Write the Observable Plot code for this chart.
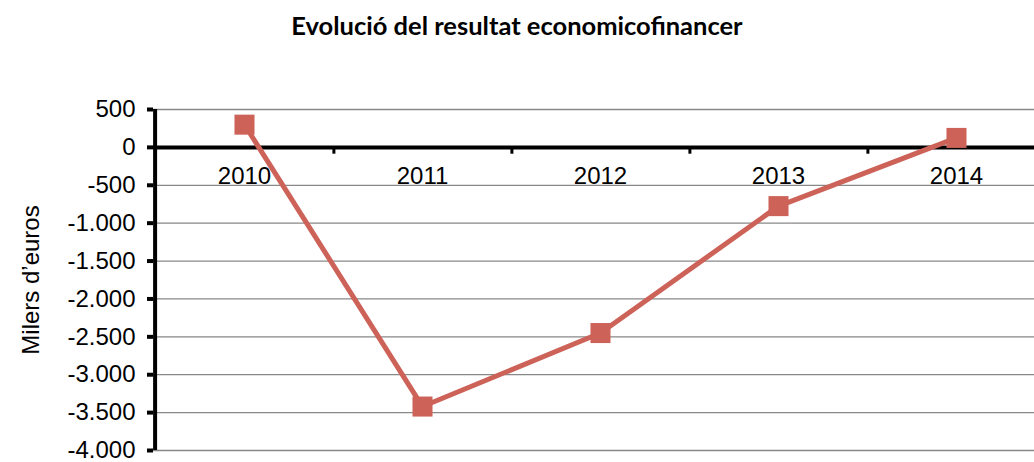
<!DOCTYPE html>
<html>
<head>
<meta charset="utf-8">
<script src="https://cdn.jsdelivr.net/npm/d3@7"></script>
<script src="https://cdn.jsdelivr.net/npm/@observablehq/plot@0.6"></script>
<style>
  html, body { margin: 0; padding: 0; background: #fff; overflow: hidden; width: 1034px; height: 462px; }
  #title { height: 70px; box-sizing: border-box; padding-top: 10px; text-align: center; font-family: "Lato", "Open Sans", sans-serif; font-weight: bold; font-size: 25.5px; color: #000; width: 1034px; line-height: 30px; }
  #chart { width: 1047px; }
  #chart svg text { font-family: "Liberation Sans", Arial, sans-serif; }
</style>
</head>
<body>
<div id="title">Evolució del resultat economicofinancer</div>
<div id="chart"></div>
<script>
const years = ["2010", "2011", "2012", "2013", "2014"];
const values = [300, -3420, -2450, -775, 125];
const yTicks = [500, 0, -500, -1000, -1500, -2000, -2500, -3000, -3500, -4000];
const yLabel = "Milers d’euros";

const data = years.map((y, i) => ({year: y, value: values[i]}));
const fmt = d3.formatLocale({decimal: ",", thousands: ".", grouping: [3], currency: ["", ""], minus: "-"}).format(",d");

const W = 1047, ML = 153, MR = 0;
const step = (W - ML - MR) / years.length;
const font = "'Liberation Sans', Arial, sans-serif";
const red = "#CD6259";

const chart = Plot.plot({
  width: W,
  height: 392,
  marginLeft: ML,
  marginRight: MR,
  marginTop: 39,
  marginBottom: 12,
  style: {fontFamily: font, fontSize: "24px", background: "white", color: "#000"},
  x: {type: "point", domain: years, padding: 0.5, axis: null},
  y: {domain: [-4000, 500], ticks: yTicks, tickFormat: fmt},
  marks: [
    Plot.ruleY(yTicks.filter(d => d !== 0), {stroke: "#888", strokeWidth: 1.3}),
    Plot.ruleY([0], {stroke: "#000", strokeWidth: 4}),
    Plot.ruleX(years, {x: d => d, y1: 0, y2: -90, dx: step / 2, stroke: "#000", strokeWidth: 3}),
    Plot.ruleX([years[0]], {x: d => d, y1: -4000, y2: 500, dx: -step / 2, stroke: "#000", strokeWidth: 4}),
    Plot.axisY({ticks: yTicks, tickFormat: fmt, tickSize: 6, tickPadding: 12, strokeWidth: 4, fontSize: 24, label: null}),
    Plot.text(years, {x: d => d, y: 0, dy: 29, text: d => d, fontSize: 24, lineAnchor: "middle", fill: "#000"}),
    Plot.line(data, {x: "year", y: "value", stroke: red, strokeWidth: 5}),
    Plot.dot(data, {x: "year", y: "value", symbol: "square", r: 11.3, fill: red, stroke: "none"}),
    Plot.text([yLabel], {frameAnchor: "left", rotate: -90, textAnchor: "middle", lineAnchor: "middle", dx: -122, text: d => d, fontSize: 24, fill: "#000"})
  ]
});
document.getElementById("chart").appendChild(chart);
</script>
</body>
</html>
